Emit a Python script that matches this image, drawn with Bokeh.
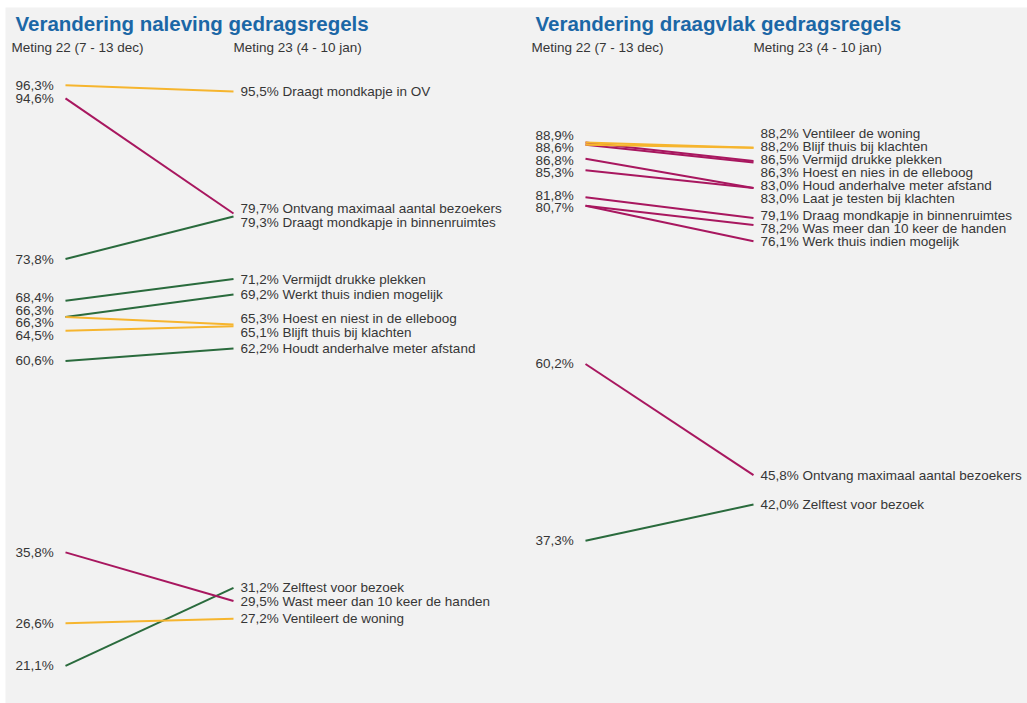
from bokeh.plotting import figure
from bokeh.models import Range1d, Label, ColumnDataSource
from bokeh.core.properties import value
from bokeh.embed import file_html
from bokeh.resources import INLINE

# ---------------- data ----------------
titles = ["Verandering naleving gedragsregels", "Verandering draagvlak gedragsregels"]
meting_labels = ["Meting 22 (7 - 13 dec)", "Meting 23 (4 - 10 jan)"]

naleving_items = [
    "Draagt mondkapje in OV",
    "Ontvang maximaal aantal bezoekers",
    "Draagt mondkapje in binnenruimtes",
    "Vermijdt drukke plekken",
    "Werkt thuis indien mogelijk",
    "Hoest en niest in de elleboog",
    "Blijft thuis bij klachten",
    "Houdt anderhalve meter afstand",
    "Zelftest voor bezoek",
    "Wast meer dan 10 keer de handen",
    "Ventileert de woning",
]
naleving_m22 = [96.3, 94.6, 73.8, 68.4, 66.3, 66.3, 64.5, 60.6, 21.1, 35.8, 26.6]
naleving_m23 = [95.5, 79.7, 79.3, 71.2, 69.2, 65.3, 65.1, 62.2, 31.2, 29.5, 27.2]
naleving_trend = ["gelijk", "daling", "stijging", "stijging", "stijging", "gelijk",
                  "gelijk", "stijging", "stijging", "daling", "gelijk"]

draagvlak_items = [
    "Ventileer de woning",
    "Blijf thuis bij klachten",
    "Vermijd drukke plekken",
    "Hoest en nies in de elleboog",
    "Houd anderhalve meter afstand",
    "Laat je testen bij klachten",
    "Draag mondkapje in binnenruimtes",
    "Was meer dan 10 keer de handen",
    "Werk thuis indien mogelijk",
    "Ontvang maximaal aantal bezoekers",
    "Zelftest voor bezoek",
]
draagvlak_m22 = [88.9, 88.6, 88.9, 88.6, 86.8, 85.3, 81.8, 80.7, 80.7, 60.2, 37.3]
draagvlak_m23 = [88.2, 88.2, 86.5, 86.3, 83.0, 83.0, 79.1, 78.2, 76.1, 45.8, 42.0]
draagvlak_trend = ["gelijk", "gelijk", "daling", "daling", "daling", "daling",
                   "daling", "daling", "daling", "daling", "stijging"]

trend_colors = {"gelijk": "#f6b52e", "daling": "#a8175f", "stijging": "#2a6b3d"}

# ---------------- layout ----------------
W, H = 1027, 703
BORDER_LEFT, BORDER_TOP = 5, 7
FRAME_H = H - BORDER_TOP
Y0, Y1 = 16.22, 106.38
PX_PER_UNIT = FRAME_H / (Y1 - Y0)
FONT = "Liberation Sans"
TEXT_COLOR = "#363636"
LABEL_SIZE = "13.5px"

PANEL_X = [0, 520]
OFF_LEFT_LABEL = 15
OFF_LINE_START = 65
OFF_LINE_END = 233
OFF_RIGHT_LABEL = 240
OFF_SUB1 = 11
OFF_SUB2 = 233
OFF_TITLE = 15


def fmt(v):
    return ("%.1f" % v).replace(".", ",") + "%"


def dodge(values, gap_px):
    """Spread label positions so they do not overlap (pool-adjacent algorithm)."""
    gap = gap_px / PX_PER_UNIT
    idx = sorted(range(len(values)), key=lambda i: -values[i])
    d = [-values[i] for i in idx]
    blocks = []
    for k in range(len(d)):
        blocks.append([k, k, d[k]])
        while len(blocks) > 1:
            a, b = blocks[-2], blocks[-1]
            a_end = a[2] + (a[1] - a[0]) * gap
            if b[2] < a_end + gap:
                s, e = a[0], b[1]
                mean_want = sum(d[s:e + 1]) / (e - s + 1)
                top = mean_want - (e - s) * gap / 2
                blocks[-2:] = [[s, e, top]]
            else:
                break
    out = [0.0] * len(values)
    for s, e, top in blocks:
        for k in range(s, e + 1):
            out[idx[k]] = -(top + (k - s) * gap)
    return out


p = figure(width=W, height=H, x_range=Range1d(BORDER_LEFT, W), y_range=Range1d(Y0, Y1),
           output_backend="svg", toolbar_location=None,
           min_border_left=BORDER_LEFT, min_border_top=BORDER_TOP,
           min_border_right=0, min_border_bottom=0,
           background_fill_color="#f2f2f2", border_fill_color="white")
p.axis.visible = False
p.grid.visible = False
p.outline_line_color = None


def draw_panel(px, title, items, m22, m23, trend, dedupe_left, gap_right):
    colors = [trend_colors[t] for t in trend]
    xs = [[px + OFF_LINE_START, px + OFF_LINE_END] for _ in items]
    ys = [[a, b] for a, b in zip(m22, m23)]
    order = sorted(range(len(items)), key=lambda i: 1 if trend[i] == "gelijk" else 0)
    src = ColumnDataSource(dict(xs=[xs[i] for i in order], ys=[ys[i] for i in order],
                                color=[colors[i] for i in order]))
    p.multi_line("xs", "ys", source=src, line_color="color", line_width=2)

    # right labels
    ry = dodge(m23, gap_right)
    rsrc = ColumnDataSource(dict(x=[px + OFF_RIGHT_LABEL] * len(items), y=ry,
                                 t=[fmt(v) + " " + n for v, n in zip(m23, items)]))
    p.text("x", "y", text="t", source=rsrc, text_font=value(FONT), text_font_size=LABEL_SIZE,
           text_color=TEXT_COLOR, text_baseline="middle", text_align="left")

    # left labels
    if dedupe_left:
        lv = []
        for v in m22:
            if v not in lv:
                lv.append(v)
    else:
        lv = list(m22)
    ly = dodge(lv, 12.5)
    lsrc = ColumnDataSource(dict(x=[px + OFF_LEFT_LABEL] * len(lv), y=ly, t=[fmt(v) for v in lv]))
    p.text("x", "y", text="t", source=lsrc, text_font=value(FONT), text_font_size=LABEL_SIZE,
           text_color=TEXT_COLOR, text_baseline="middle", text_align="left")

    p.add_layout(Label(x=px + OFF_TITLE, y=H - 23, x_units="data", y_units="screen",
                       text=title, text_font=FONT, text_font_size="20.5px",
                       text_font_style="bold", text_color="#1b67a6", text_baseline="middle"))
    p.add_layout(Label(x=px + OFF_SUB1, y=H - 47, x_units="data", y_units="screen",
                       text=meting_labels[0], text_font=FONT, text_font_size=LABEL_SIZE,
                       text_color=TEXT_COLOR, text_baseline="middle"))
    p.add_layout(Label(x=px + OFF_SUB2, y=H - 47, x_units="data", y_units="screen",
                       text=meting_labels[1], text_font=FONT, text_font_size=LABEL_SIZE,
                       text_color=TEXT_COLOR, text_baseline="middle"))


draw_panel(PANEL_X[0], titles[0], naleving_items, naleving_m22, naleving_m23, naleving_trend, False, 14)
draw_panel(PANEL_X[1], titles[1], draagvlak_items, draagvlak_m22, draagvlak_m23, draagvlak_trend, True, 13)

open("out.html", "w").write(file_html(p, INLINE))
